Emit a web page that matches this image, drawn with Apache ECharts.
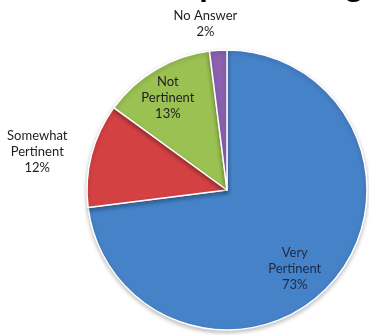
<!DOCTYPE html>
<html>
<head>
<meta charset="utf-8">
<script src="https://cdn.jsdelivr.net/npm/echarts@6/dist/echarts.min.js"></script>
<style>
  html, body { margin: 0; padding: 0; background: #fff; }
  #chart { width: 369px; height: 335px; }
</style>
</head>
<body>
<div id="chart"></div>
<script>
// answers, clockwise from 12 o'clock
const categories = ['Very\nPertinent', 'Somewhat\nPertinent', 'Not\nPertinent', 'No Answer'];
const shares = [73, 12, 13, 2];
const colors = ['#4682c8', '#d44143', '#9bc153', '#8b61b0'];
// label nudges from the default inside spot
const labelOffsets = [[13, 31], [-119, -20], [-22, -29], [-17, -93]];
const labelColors = ['#1b2a47', '#1e1e1e', '#1e1e1e', '#1e1e1e'];

const chart = echarts.init(document.getElementById('chart'));

chart.setOption({
    animation: false,
    // title sits mostly above the frame, only its descenders show
    title: {
        text: 'Participant Rating',
        right: 2,
        top: -32,
        textStyle: {
            color: '#000',
            fontSize: 28,
            fontWeight: 'bold',
            fontFamily: 'Open Sans'
        }
    },
    series: [{
        type: 'pie',
        center: [227, 190],
        radius: 140,
        startAngle: 90,
        clockwise: true,
        avoidLabelOverlap: false,
        itemStyle: {
            borderColor: '#fff',
            borderWidth: 1.5,
            shadowColor: 'rgba(0,0,0,0.25)',
            shadowBlur: 4,
            shadowOffsetY: 2
        },
        label: {
            show: true,
            position: 'inside',
            fontFamily: 'Lato',
            fontSize: 13,
            lineHeight: 16,
            align: 'center',
            formatter: p => p.name + '\n' + p.value + '%'
        },
        labelLine: { show: false },
        emphasis: { disabled: true },
        data: categories.map((name, i) => ({
            name,
            value: shares[i],
            itemStyle: { color: colors[i] },
            label: { offset: labelOffsets[i], color: labelColors[i] }
        }))
    }]
});
</script>
</body>
</html>
